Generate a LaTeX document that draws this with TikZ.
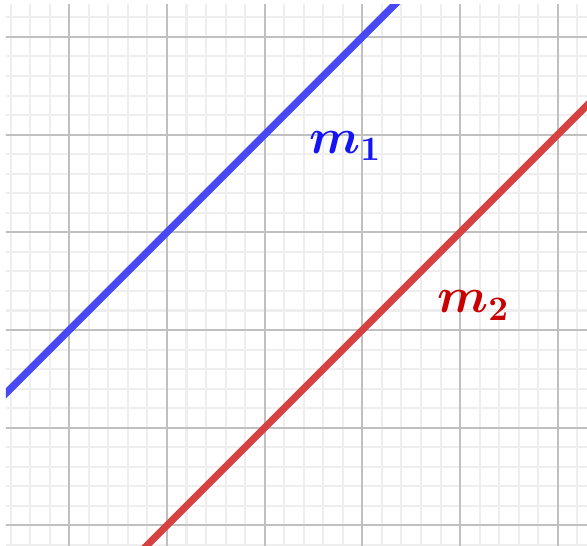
\documentclass[tikz,border=0pt]{standalone}
\usepackage{bm}
\definecolor{minorgrid}{RGB}{238,238,238}
\definecolor{majorgrid}{RGB}{192,192,192}
\definecolor{lineblue}{RGB}{72,72,245}
\definecolor{linered}{RGB}{214,66,66}
\definecolor{labblue}{RGB}{20,20,245}
\definecolor{labred}{RGB}{200,0,0}
\begin{document}
\begin{tikzpicture}[x=1cm,y=1cm,
  minorlines/.style={draw=minorgrid, line width=0.6pt},
  majorlines/.style={draw=majorgrid, line width=0.6pt},
  thickline/.style={line width=2.1pt},
  lab/.style={inner sep=0pt, anchor=base west, font=\fontsize{14}{17}\selectfont}]
\useasboundingbox (-0.709,-0.2006) rectangle (5.299,5.378);
\fill[white] (-0.709,-0.2006) rectangle (5.299,5.378);
\begin{scope}
  \clip (-0.648,-0.2006) rectangle (5.299,5.327);
  \draw[minorlines, step=0.2] (-1,-1) grid (6,6);
  \draw[majorlines, step=1] (-1,-1) grid (6,6);
  \coordinate (b1) at (-1,1);
  \coordinate (b2) at (4,6);
  \coordinate (r1) at (0,-1);
  \coordinate (r2) at (6,5);
  \draw[thickline, lineblue] (b1) -- (b2);
  \draw[thickline, linered] (r1) -- (r2);
\end{scope}
\node[lab, text=labblue] (m1) at (2.45,3.81) {$\bm{m_1}$};
\node[lab, text=labred] (m2) at (3.76,2.175) {$\bm{m_2}$};
\end{tikzpicture}
\end{document}
